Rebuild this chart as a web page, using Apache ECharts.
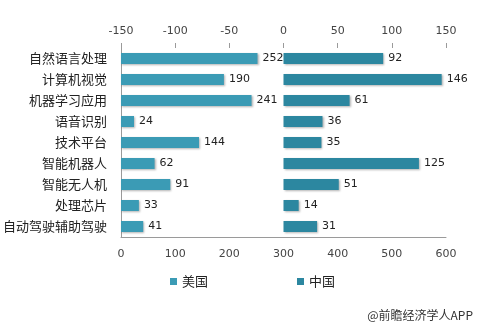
<!DOCTYPE html>
<html>
<head>
<meta charset="utf-8">
<script src="https://cdn.jsdelivr.net/npm/echarts@6/dist/echarts.min.js"></script>
<style>html,body{margin:0;padding:0;background:#fff;}#c{width:480px;height:327px;}</style>
</head>
<body>
<div id="c"></div>
<script>
var categories = ['自然语言处理','计算机视觉','机器学习应用','语音识别','技术平台','智能机器人','智能无人机','处理芯片','自动驾驶辅助驾驶'];
var usValues = [252,190,241,24,144,62,91,33,41];
var cnValues = [92,146,61,36,35,125,51,14,31];
var bottomTicks = {min:0, max:600, interval:100};
var topTicks = {min:-150, max:150, interval:50};
var seriesNames = ['美国','中国'];
var usColor = '#3b9bb5', cnColor = '#2c87a0';
var numFont = 'DejaVu Sans', cjkFont = 'Noto Sans CJK SC';
var chart = echarts.init(document.getElementById('c'));
var shadow = {shadowColor:'rgba(0,0,0,0.3)', shadowBlur:2, shadowOffsetX:1, shadowOffsetY:1};
chart.setOption({
  animation:false,
  backgroundColor:'#fff',
  grid:{left:121, right:34, top:48, height:189},
  legend:{
    top:270, left:165, itemGap:89, itemWidth:7, itemHeight:7, icon:'rect',
    textStyle:{fontFamily:cjkFont, fontSize:13, color:'#222'},
    data:seriesNames
  },
  xAxis:[
    {type:'value', position:'bottom', min:bottomTicks.min, max:bottomTicks.max, interval:bottomTicks.interval,
     axisLine:{show:true, lineStyle:{color:'#9a9a9a'}}, axisTick:{show:false}, splitLine:{show:false},
     axisLabel:{fontFamily:numFont, fontSize:11, color:'#444', margin:12}},
    {type:'value', position:'top', min:topTicks.min, max:topTicks.max, interval:topTicks.interval,
     axisLine:{show:false}, axisTick:{show:true, length:5, lineStyle:{color:'#9a9a9a'}}, splitLine:{show:false},
     axisLabel:{fontFamily:numFont, fontSize:11, color:'#444', margin:11}}
  ],
  yAxis:{type:'category', inverse:true, data:categories,
    axisLine:{show:true, lineStyle:{color:'#9a9a9a'}}, axisTick:{show:false},
    axisLabel:{fontFamily:cjkFont, fontSize:13, color:'#222', margin:14}},
  series:[
    {name:seriesNames[0], type:'bar', xAxisIndex:0, data:usValues, barWidth:11, barGap:'-100%',
     itemStyle:Object.assign({color:usColor}, shadow),
     label:{show:true, position:'right', distance:5, fontFamily:numFont, fontSize:11, color:'#222'}},
    {name:seriesNames[1], type:'bar', xAxisIndex:1, data:cnValues, barWidth:11, barGap:'-100%',
     itemStyle:Object.assign({color:cnColor}, shadow),
     label:{show:true, position:'right', distance:5, fontFamily:numFont, fontSize:11, color:'#222'}}
  ],
  graphic:[{type:'text', right:7, top:309, style:{text:'@前瞻经济学人APP', fontFamily:cjkFont, fontSize:12, fill:'#333'}}]
});
</script>
</body>
</html>
